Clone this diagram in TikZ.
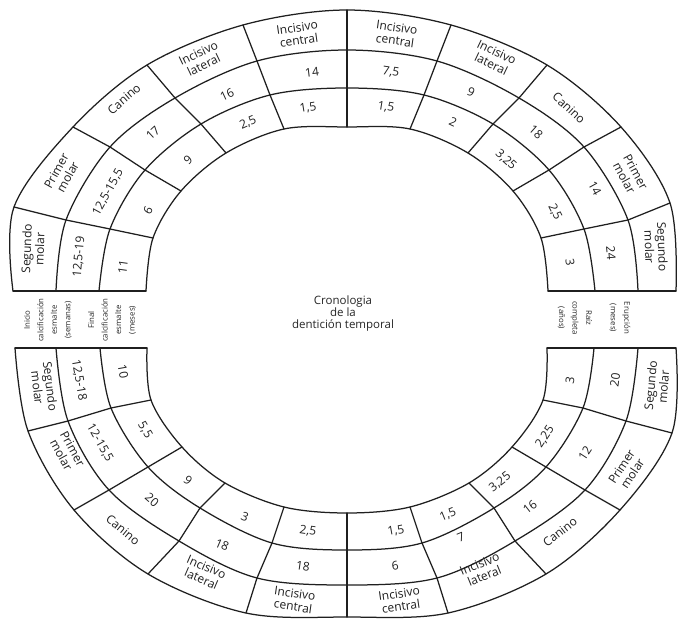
\documentclass[tikz,border=0pt]{standalone}
\usepackage{fontspec}
\setmainfont{Open Sans}
\newcommand\defring[2]{\foreach \nm/\xx/\yy in {#2}{\coordinate (#1\nm) at (\xx,\yy);}}
\newcommand\ringcurve[1]{\draw[ln] plot[smooth,tension=0.55] coordinates {(#10)(#11)(#12)(#13)(#14)(#15)(#16)(#17)(#18)(#19)(#110)};}
\newcommand\dividers[1]{\foreach \k in {1,...,9}{\draw[ln] (#1I\k) -- (#1B\k) -- (#1A\k) -- (#1O\k);}
  \draw[ln] (#1O0) -- (#1I0); \draw[ln] (#1O10) -- (#1I10);}
\begin{document}
\begin{tikzpicture}[x=1pt,y=-1pt,
  ln/.style={line width=1.25pt, draw=black!88, line join=round, line cap=round},
  lbl/.style={font=\fontsize{12}{13}\selectfont, align=center, inner sep=0pt, text=black!88},
  side/.style={font=\fontsize{7.8}{13.5}\selectfont, align=center, inner sep=0pt, text=black!85},
  title/.style={font=\fontsize{11.5}{12}\selectfont, align=center, inner sep=0pt, text=black!85}]
\useasboundingbox (0,0) rectangle (678,623);
\fill[white] (0,0) rectangle (678,623);
% ---------- upper half ----------
\defring{uO}{0/13/291, 1/14/207, 2/73/127, 3/147/65, 4/243/25, 5/347/10, 6/451/25, 7/547/65, 8/621/127, 9/670/203, 10/676/291}
\defring{uA}{0/56/291, 1/66/220, 2/110/147, 3/175/98, 4/257/61, 5/347/50, 6/437/61, 7/519/98, 8/584/147, 9/628/220, 10/638/291}
\defring{uB}{0/99/291, 1/110/229, 2/145/170, 3/201/124, 4/270/95, 5/347/88, 6/424/95, 7/493/124, 8/549/170, 9/584/229, 10/595/291}
\defring{uI}{0/146/291, 1/153/238, 2/181/191, 3/226/153, 4/284/129, 5/347/127, 6/410/129, 7/468/153, 8/513/191, 9/541/238, 10/548/291}
% ---------- lower half ----------
\defring{lO}{0/15/348, 1/28/431, 2/74/510, 3/148/574, 4/246/613, 5/347/617, 6/448/613, 7/546/574, 8/620/510, 9/672/433, 10/676/348}
\defring{lA}{0/56/348, 1/68/421, 2/109/490, 3/179/541, 4/257/578, 5/347/585, 6/437/578, 7/515/541, 8/585/490, 9/626/421, 10/638/348}
\defring{lB}{0/100/348, 1/111/408, 2/148/467, 3/200/508, 4/272/543, 5/347/550, 6/422/543, 7/494/508, 8/546/467, 9/583/408, 10/594/348}
\defring{lI}{0/147/348, 1/151/400, 2/182/447, 3/225/483, 4/284/507, 5/347/513, 6/410/507, 7/469/483, 8/512/447, 9/543/400, 10/547/348}
\ringcurve{uO}\ringcurve{uA}\ringcurve{uB}\ringcurve{uI}
\ringcurve{lO}\ringcurve{lA}\ringcurve{lB}\ringcurve{lI}
\dividers{u}\dividers{l}
% ---------- upper left texts ----------
\node[lbl,rotate=88]   (u1a) at (33,249)  {Segundo\\molar};
\node[lbl,rotate=85]   (u1b) at (79,257)  {12,5-19};
\node[lbl,rotate=82]   (u1c) at (123,267) {11};
\node[lbl,rotate=61.4] (u2a) at (62,174)  {Primer\\molar};
\node[lbl,rotate=61.2] (u2b) at (108,192) {12,5-15,5};
\node[lbl,rotate=61.6] (u2c) at (148,210) {6};
\node[lbl,rotate=41]   (u3a) at (124,99)  {Canino};
\node[lbl,rotate=42.8] (u3b) at (153,133) {17};
\node[lbl,rotate=42.4] (u3c) at (188,160) {9};
\node[lbl,rotate=25.4] (u4a) at (201,59)  {Incisivo\\lateral};
\node[lbl,rotate=24.8] (u4b) at (227,95)  {16};
\node[lbl,rotate=23.9] (u4c) at (248,123) {2,5};
\node[lbl,rotate=8.1]  (u5a) at (298,34)  {Incisivo\\central};
\node[lbl,rotate=6.9]  (u5b) at (312,72)  {14};
\node[lbl,rotate=9.1]  (u5c) at (308,108) {1,5};
% ---------- upper right texts ----------
\node[lbl,rotate=-8.1]  (u6a) at (396,34)  {Incisivo\\central};
\node[lbl,rotate=-8.6]  (u6b) at (391,72)  {7,5};
\node[lbl,rotate=-9.1]  (u6c) at (386,107) {1,5};
\node[lbl,rotate=-25.5] (u7a) at (494,58)  {Incisivo\\lateral};
\node[lbl,rotate=-25.1] (u7b) at (471,92)  {9};
\node[lbl,rotate=-25.3] (u7c) at (453,122) {2};
\node[lbl,rotate=-42.5] (u8a) at (569,108) {Canino};
\node[lbl,rotate=-41.8] (u8b) at (536,132) {18};
\node[lbl,rotate=-42.4] (u8c) at (506,160) {3,25};
\node[lbl,rotate=-61.3] (u9a) at (630,175) {Primer\\molar};
\node[lbl,rotate=-61.1] (u9b) at (595,188) {14};
\node[lbl,rotate=-63.2] (u9c) at (555,212) {2,5};
\node[lbl,rotate=-88]   (u10a) at (656,247) {Segundo\\molar};
\node[lbl,rotate=-85]   (u10b) at (611,253) {24};
\node[lbl,rotate=-82]   (u10c) at (570,262) {3};
% ---------- lower left texts ----------
\node[lbl,rotate=-83]   (l1a) at (44,387)  {Segundo\\molar};
\node[lbl,rotate=-80]   (l1b) at (79,380)  {12,5-18};
\node[lbl,rotate=-80]   (l1c) at (123,372) {10};
\node[lbl,rotate=-61.2] (l2a) at (67,452)  {Primer\\molar};
\node[lbl,rotate=-60.4] (l2b) at (100,443) {12-15,5};
\node[lbl,rotate=-59]   (l2c) at (145,430) {5,5};
\node[lbl,rotate=-39.6] (l3a) at (123,530) {Canino};
\node[lbl,rotate=-41]   (l3b) at (152,500) {20};
\node[lbl,rotate=-39.2] (l3c) at (188,480) {9};
\node[lbl,rotate=-23.4] (l4a) at (204,573) {Incisivo\\lateral};
\node[lbl,rotate=-23.2] (l4b) at (222,545) {18};
\node[lbl,rotate=-22.2] (l4c) at (245,517) {3};
\node[lbl,rotate=-8.2]  (l5a) at (294,600) {Incisivo\\central};
\node[lbl,rotate=-7.7]  (l5b) at (303,566) {18};
\node[lbl,rotate=-8.2]  (l5c) at (308,531) {2,5};
% ---------- lower right texts ----------
\node[lbl,rotate=8.1]  (l6a) at (400,600) {Incisivo\\central};
\node[lbl,rotate=8.6]  (l6b) at (395,566) {6};
\node[lbl,rotate=10.3] (l6c) at (396,531) {1,5};
\node[lbl,rotate=22]   (l7a) at (482,570) {Incisivo\\lateral};
\node[lbl,rotate=22.2] (l7b) at (461,537) {7};
\node[lbl,rotate=22.3] (l7c) at (448,515) {1,5};
\node[lbl,rotate=37.9] (l8a) at (560,532) {Canino};
\node[lbl,rotate=37.9] (l8b) at (530,507) {16};
\node[lbl,rotate=37.7] (l8c) at (500,482) {3,25};
\node[lbl,rotate=56.7] (l9a) at (627,470) {Primer\\molar};
\node[lbl,rotate=56.9] (l9b) at (585,453) {12};
\node[lbl,rotate=56.4] (l9c) at (545,437) {2,25};
\node[lbl,rotate=85]   (l10a) at (657,386) {Segundo\\molar};
\node[lbl,rotate=82]   (l10b) at (615,380) {20};
\node[lbl,rotate=80]   (l10c) at (570,380) {3};
% ---------- side and centre labels ----------
\node[side,rotate=90]  (sideL1) at (48,320)  {Inicio\\calcificación\\esmalte\\(semanas)};
\node[side,rotate=90]  (sideL2) at (112,320) {Final\\calcificación\\esmalte\\(meses)};
\node[side,rotate=-90] (sideR1) at (575,318) {Raíz\\completa\\(años)};
\node[side,rotate=-90] (sideR2) at (620,318) {Erupción\\(meses)};
\node[title] (title) at (343,314) {Cronologia\\de la\\dentición temporal};
\end{tikzpicture}
\end{document}
